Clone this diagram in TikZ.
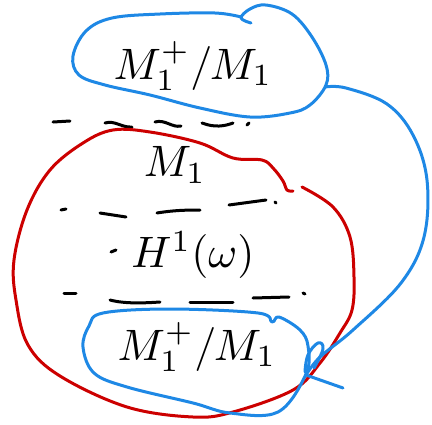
\documentclass[tikz,border=0pt]{standalone}
\usepackage{graphicx}
\definecolor{penblue}{RGB}{30,136,229}
\definecolor{penred}{RGB}{204,0,0}
\tikzset{
  bluepen/.style={draw=penblue,line width=3pt,line cap=round,line join=round},
  redpen/.style={draw=penred,line width=3pt,line cap=round,line join=round},
  inkdash/.style={draw=black,line width=3pt,line cap=round},
  bigtext/.style={inner sep=0pt},
}
\newcommand{\bigmath}[1]{\scalebox{4.4}{$#1$}}
\begin{document}
\begin{tikzpicture}[x=1pt,y=-1pt]
\useasboundingbox (0,0) rectangle (432,424);
% texts
\node[bigtext] (top) at (193,66) {\bigmath{M_1^+/M_1}};
\node[bigtext] (mid) at (175,165) {\bigmath{M_1}};
\node[bigtext] (coh) at (193,255) {\bigmath{H^1(\omega)}};
\node[bigtext] (bot) at (197,347) {\bigmath{M_1^+/M_1}};
% dashed separators
\draw[inkdash] (53,122) -- (70,121);
\draw[inkdash] (105,123) .. controls (115,120) and (122,128) .. (132,127);
\draw[inkdash] (155,122) .. controls (165,119) and (172,128) .. (181,126);
\draw[inkdash] (202,123) .. controls (215,128) and (225,126) .. (233,123);
\draw[inkdash] (247,125) -- (249,123);
\draw[inkdash] (61,210) -- (66,209);
\draw[inkdash] (100,213) -- (126,217);
\draw[inkdash] (157,213) .. controls (175,210) and (190,210) .. (200,210);
\draw[inkdash] (229,205) -- (266,200);
\draw[inkdash] (275,202) -- (276,203);
\draw[inkdash] (111,252) -- (116,250);
\draw[inkdash] (64,293) -- (76,293);
\draw[inkdash] (110,300) .. controls (125,304) and (145,303) .. (160,302);
\draw[inkdash] (190,302) -- (233,302);
\draw[inkdash] (253,298) -- (289,297);
\draw[inkdash] (303,293) -- (305,294);
% red loop
\draw[redpen] plot[smooth,tension=0.6] coordinates {(302,187) (333,207) (350,237) (354,277) (352,310) (340,333) (320,363) (293,390) (233,412) (193,417) (127,407) (60,376) (28,345) (16,300) (14,260) (27,210) (50,170) (83,143) (113,130) (150,132) (200,143) (233,158) (262,160) (273,168) (283,181) (287,190) (293,191)};
% top blue blob
\draw[bluepen] plot[smooth,tension=0.6] coordinates {(251,23) (241,18) (250,9) (266,5) (292,14) (312,37) (326,65) (326,85) (310,105) (290,113) (250,117) (200,108) (150,95) (105,85) (79,75) (73,56) (86,31) (112,18) (160,14) (215,13) (241,17)};
% bottom blue blob
\draw[bluepen] plot[smooth cycle,tension=0.6] coordinates {(103,313) (170,309) (258,313) (272,322) (279,317) (300,330) (308,346) (306,374) (278,412) (230,413) (193,403) (127,387) (94,373) (83,347) (89,326)};
% blue tail from top blob down to bottom blob
\draw[bluepen] plot[smooth,tension=0.6] coordinates {(325,87) (346,88) (387,104) (413,135) (427,180) (424,237) (401,283) (353,330) (320,357) (306,375)} -- (343,388);
\draw[bluepen] plot[smooth,tension=0.7] coordinates {(314,368) (323,349) (318,343) (308,355) (305,372)};
\end{tikzpicture}
\end{document}
